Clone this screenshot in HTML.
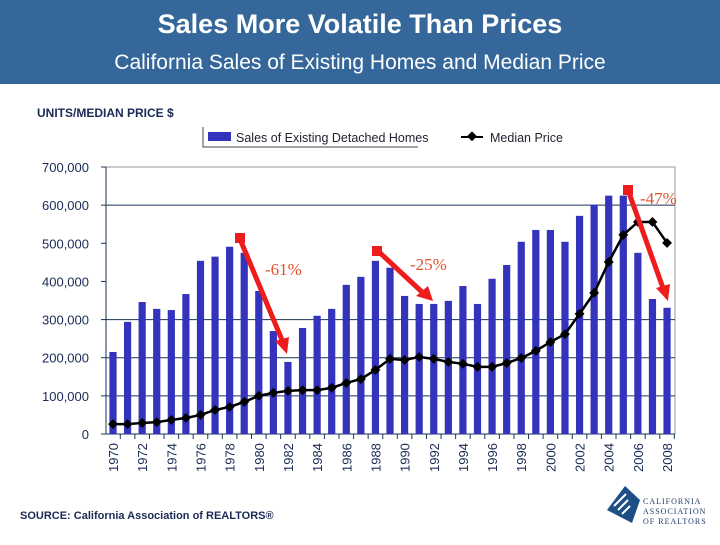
<!DOCTYPE html>
<html><head><meta charset="utf-8"><style>
body{margin:0;width:720px;height:540px;background:#fff;overflow:hidden;font-family:"Liberation Sans",sans-serif}
</style></head><body>
<svg width="720" height="540" xmlns="http://www.w3.org/2000/svg" id="chart">
<rect x="0" y="0" width="720" height="84" fill="#35679a"/>
<text x="360" y="33" text-anchor="middle" font-size="27" font-weight="bold" fill="#fff">Sales More Volatile Than Prices</text>
<text x="360" y="69" text-anchor="middle" font-size="21" fill="#fff">California Sales of Existing Homes and Median Price</text>
<text x="37" y="117" font-size="12" font-weight="bold" fill="#1a2a55">UNITS/MEDIAN PRICE $</text>
<g>
<path d="M203 127 V147 H418" stroke="#444" fill="none" stroke-width="1"/>
<rect x="208" y="132" width="23" height="9" fill="#3333bb"/>
<text x="236" y="142" font-size="12.5" fill="#223">Sales of Existing Detached Homes</text>
<line x1="461" y1="137" x2="483" y2="137" stroke="#000" stroke-width="2"/>
<rect x="468" y="133" width="7" height="7" transform="rotate(45 472 137)" fill="#000"/>
<text x="490" y="142" font-size="12.5" fill="#223">Median Price</text>
</g>
<g id="axes"></g>
<g id="marks"></g>
<g>
<g stroke="#ee1c1c" stroke-width="5" fill="#ee1c1c">
<line x1="240" y1="239" x2="282" y2="340"/><polygon points="275,341 289,337 287,354" stroke="none"/><rect x="235" y="233" width="10" height="10" stroke="none"/>
<line x1="378" y1="251" x2="422" y2="292"/><polygon points="416,296 428,286 433,301" stroke="none"/><rect x="372" y="246" width="10" height="10" stroke="none"/>
<line x1="628" y1="190" x2="663" y2="288"/><polygon points="656,288 670,284 668,301" stroke="none"/><rect x="623" y="185" width="10" height="10" stroke="none"/>
</g>
<text x="265" y="275" font-family="Liberation Serif,serif" font-size="17" fill="#e0502a">-61%</text>
<text x="410" y="270" font-family="Liberation Serif,serif" font-size="17" fill="#e0502a">-25%</text>
<text x="640" y="204" font-family="Liberation Serif,serif" font-size="17" fill="#e0502a">-47%</text>
</g>
<text x="20" y="519" font-size="11" font-weight="bold" fill="#1a2a55">SOURCE: California Association of REALTORS®</text>
<g>
<polygon points="607,510 625,486 640,500 632,523" fill="#1d4e86"/>
<path d="M614 506 l12 -12 M618 510 l10 -10 M622 514 l8 -8" stroke="#fff" stroke-width="2"/>
<text x="643" y="504" font-family="Liberation Serif,serif" font-size="8" fill="#1d3a66" letter-spacing="1">CALIFORNIA</text>
<text x="643" y="514" font-family="Liberation Serif,serif" font-size="8" fill="#1d3a66" letter-spacing="1">ASSOCIATION</text>
<text x="643" y="524" font-family="Liberation Serif,serif" font-size="8" fill="#1d3a66" letter-spacing="1">OF REALTORS</text>
</g>
</svg>
<script>
const years=[1970,1971,1972,1973,1974,1975,1976,1977,1978,1979,1980,1981,1982,1983,1984,1985,1986,1987,1988,1989,1990,1991,1992,1993,1994,1995,1996,1997,1998,1999,2000,2001,2002,2003,2004,2005,2006,2007,2008];
const sales=[215000,294000,346000,328000,325000,367000,454000,465000,491000,475000,375000,270000,189000,278000,310000,328000,391000,412000,454000,436000,362000,341000,341000,349000,388000,341000,407000,443000,504000,535000,535000,504000,572000,601000,625000,625000,475000,354000,331000];
const medianPrice=[26000,26000,29000,31000,37000,42000,50000,63000,71000,84000,100000,108000,113000,115000,115000,121000,134000,144000,168000,197000,194000,202000,197000,189000,184000,176000,176000,186000,199000,218000,241000,262000,315000,370000,451000,522000,556000,556000,501000];
const yTicks=[0,100000,200000,300000,400000,500000,600000,700000];
const gridVals=[100000,200000,300000,600000];
const NS="http://www.w3.org/2000/svg";
const x0=113,dx=14.58,yBase=434,pxPer=0.0003814;
function xs(i){return x0+i*dx;}
function ys(v){return yBase-v*pxPer;}
function mk(t,a,p){const e=document.createElementNS(NS,t);for(const k in a)e.setAttribute(k,a[k]);p.appendChild(e);return e;}
const ax=document.getElementById('axes'),mg=document.getElementById('marks');
mk('rect',{x:106,y:ys(700000),width:569,height:yBase-ys(700000),fill:'none',stroke:'#999'},ax);
gridVals.forEach(v=>{const l=mk('line',{x1:106,x2:675,y1:ys(v),y2:ys(v),stroke:'#1a3355','stroke-width':1},ax);

});
mk('line',{x1:106,x2:106,y1:ys(700000),y2:yBase,stroke:'#1a3355'},ax);
mk('line',{x1:106,x2:675,y1:yBase,y2:yBase,stroke:'#1a3355'},ax);
yTicks.forEach(v=>{const t=mk('text',{x:89,y:ys(v)+5,'text-anchor':'end','font-size':13,fill:'#1a2a55'},ax);t.textContent=v.toLocaleString('en-US');


mk('line',{x1:101,x2:106,y1:ys(v),y2:ys(v),stroke:'#1a3355'},ax);});
years.forEach((yr,i)=>{mk('line',{x1:xs(i)+dx/2,x2:xs(i)+dx/2,y1:yBase,y2:yBase+5,stroke:'#1a3355'},ax);
if(i%2===0){const t=mk('text',{x:xs(i)+5,y:yBase+38,'font-size':13,fill:'#1a2a55',transform:'rotate(-90 '+(xs(i)+5)+' '+(yBase+38)+')'},ax);t.textContent=yr;

}});
sales.forEach((v,i)=>{const r=mk('rect',{x:xs(i)-3.6,y:ys(v),width:7.2,height:yBase-ys(v),fill:'#3333bb'},mg);

});
const pl=mk('polyline',{points:medianPrice.map((v,i)=>xs(i)+','+ys(v)).join(' '),fill:'none',stroke:'#000','stroke-width':2.5},mg);


medianPrice.forEach((v,i)=>{const p=mk('rect',{x:xs(i)-3.5,y:ys(v)-3.5,width:7,height:7,fill:'#000',transform:'rotate(45 '+xs(i)+' '+ys(v)+')'},mg);

});
</script>
</body></html>
